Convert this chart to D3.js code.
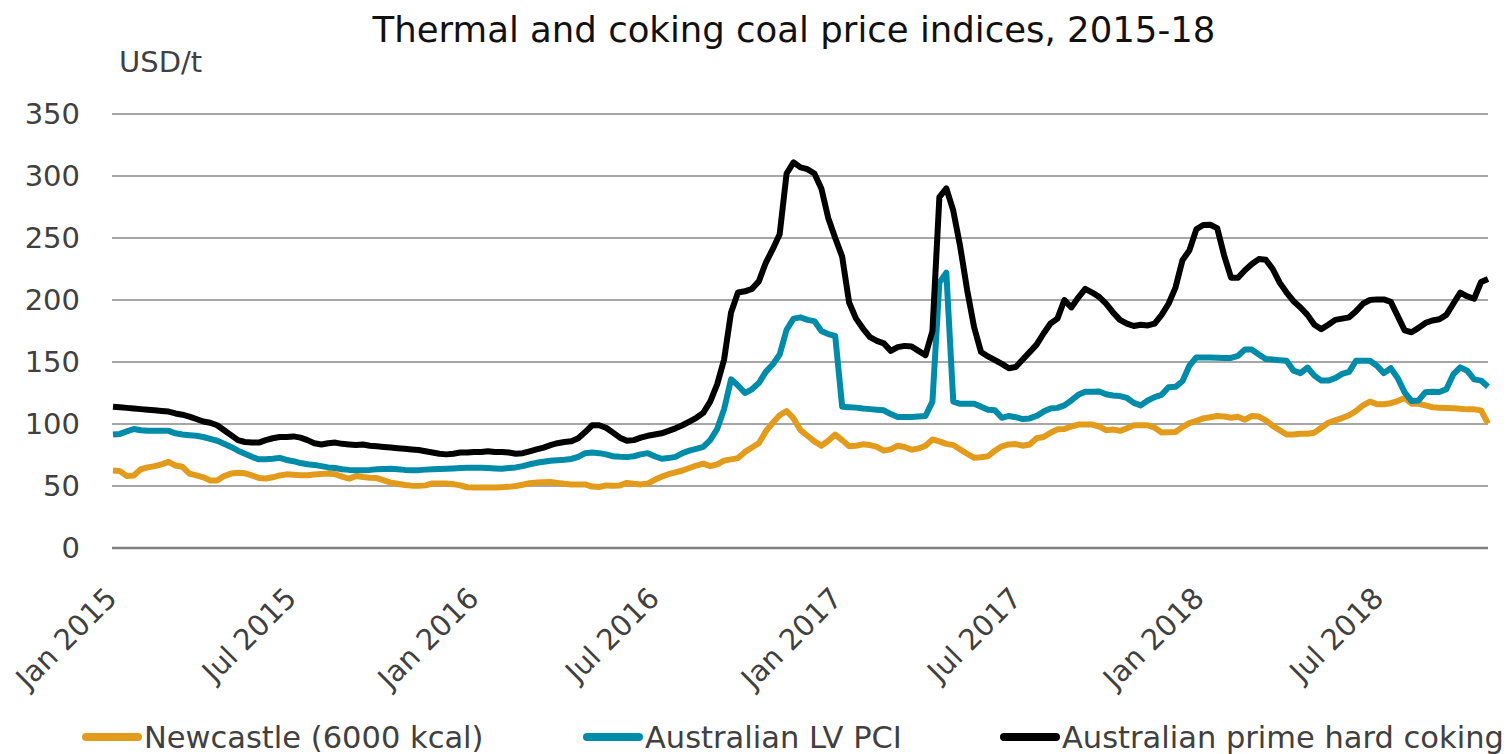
<!DOCTYPE html>
<html>
<head>
<meta charset="utf-8">
<script src="https://cdn.jsdelivr.net/npm/d3@7"></script>
<style>
  body { margin: 0; background: #fff; }
  text { font-family: "DejaVu Sans", sans-serif; }
</style>
</head>
<body>
<div id="chart"></div>
<script>
// weekly price data, USD/t, first week ending 2 Jan 2015
var firstWeek = new Date(2015, 0, 2);

var newcastle = [62.5,62,58,58.5,63.5,65,66,67.5,69.5,66.5,65.5,60,58.5,57,54.5,54.5,58,60,60.7,60.2,
  58.5,56.5,56,57,58.5,59.4,59,58.6,58.6,59.2,59.6,60,59.5,57.5,56,58,57.2,56.6,56.4,54.5,
  52.7,51.8,50.8,50.3,50.1,50.5,52,52,52,51.5,50.5,49,48.7,48.7,48.7,48.7,49,49.3,50,51,
  52.3,52.8,53,53.2,52.5,51.8,51.3,51.3,51.3,49.5,49.2,50.5,50.2,50.5,52.5,51.8,51.3,52,55,57.5,
  59.5,61,62.5,64.5,66.5,68,66,67.5,70.5,71.5,72.5,77.5,81,84.5,94,101,107,110.5,104.5,95,
  90.5,86,82.5,86.5,91.5,87,82,82.5,83.6,83,81.5,78.5,79.5,82.5,81.5,79.2,80.3,82.5,87.5,86,
  84,83,79.5,76,72.7,73.2,74,78.5,82,83.5,83.8,82.5,83.5,88.5,89.5,93,95.7,96,98,99.5,
  99.5,99.5,98,95,95.5,94.5,96.5,99,99,99,97,93.2,93.3,93.5,97.5,100.7,102.5,104.5,105.5,106.5,
  106,105,105.8,103.5,106.5,106,103,98.5,95,91.5,91.5,92.2,92.2,93,97,101,103,104.8,107,110.5,
  115,118,116,116,116.8,118.5,121,116.3,116.3,115,113.5,113.2,113,112.8,112.3,111.8,111.8,111,100.3];

var lvPci = [91.5,92,94,96,95,94.5,94.5,94.5,94.5,92.5,91.5,91,90.5,89.5,88,86.5,84,81.5,78.5,76,
  73.5,71.5,71.5,72,72.7,71,70,68.5,67.5,67,66,65,64.5,63.5,63,62.8,62.8,63,63.5,63.8,
  64,63.5,63,62.8,62.8,63.2,63.5,63.8,64,64.2,64.5,64.7,64.7,64.7,64.5,64.2,64,64.5,65,66,
  67.5,68.7,69.5,70.3,70.8,71.2,71.8,73.5,76.5,77,76.5,75.5,74,73.5,73.3,74,75.5,76.5,74,72,
  72.5,73.5,76.5,78.5,80,81.5,87,96,112,136,131,125,128,133,142,148,156,176,185,186,
  184,183,175,172.5,171,114,113.6,113.2,112.5,112,111.5,111,108,105.6,105.6,105.6,106,106.5,118,214,
  222,118,116.3,116.3,116.3,114,111.5,111,105,106.5,105.5,104,104.5,106.5,110,112.5,113,115,119,123.5,
  126,126,126.2,124,123,122.5,121,117,115,119,121.7,123.5,129.7,130,134.5,147,153.7,153.7,153.7,153.5,
  153.3,153.3,155,160,160,156,152.4,152,151.5,151,143,141,145.5,139,135,135,137,140.4,142,151,
  151,151,147,141,145,137,125.5,118.5,119,125.7,126,125.8,128,140,145.7,143,136,135,130];

var primeHard = [114,113.5,113,112.5,112,111.5,111,110.5,110,108.5,107.5,106,104,102,101,99,95,91,87,85.5,
  85,85,87,88.5,89.5,89.5,90,89,87,84.5,83.5,84.5,85,84,83.5,83,83.5,82.5,82,81.5,
  81,80.5,80,79.5,79,78,77,76,75.5,76,77,77,77.5,77.5,78,77.5,77.5,77,76,76.5,
  78,79.5,81,83,84.5,85.5,86,88.5,93.5,99,99,97,93,89,86.5,87,89,90.5,91.5,92.5,
  94.5,96.5,99,102,105,109,118,132,152,190,206,207,209,215,230,241,253,302,311,307,
  305.5,302,290,266,250,235,198,185,177,170,167,165,159,162,163,162.5,159,155.5,175,283,
  290,272,243,208,178,158,154.5,151.5,148.5,145,146,152,158,164,173,181,185,200,194,202,
  209,206,202.5,197,190,184,181,179,180,179.5,181,188,197,210,232,240,257,260.5,260.7,258,
  236,218,218,224,229,233,232.5,225,214,206,199,194,188,180,176.5,180,184,185,186,191,
  197,200,200.5,200.5,198.5,187,175.5,174,177.5,181.5,183.5,184.5,188,197,206,203,201,214.5,217];

var seriesNames = ["Newcastle (6000 kcal)", "Australian LV PCI", "Australian prime hard coking"];
var seriesColors = ["#e39b1b", "#008ba8", "#000000"];
var yTicks = [0, 50, 100, 150, 200, 250, 300, 350];

var width = 1511, height = 754;
var plotLeft = 112, plotRight = 1488, plotTop = 114, plotBottom = 548;

var svg = d3.select('#chart').append('svg').attr('width', width).attr('height', height);

var weeks = newcastle.map(function(d, i){ return d3.timeDay.offset(firstWeek, 7*i); });

var x = d3.scaleTime().domain([new Date(2015, 0, 1), new Date(2018, 9, 19)]).range([plotLeft, plotRight]);
var y = d3.scaleLinear().domain([0, 350]).range([plotBottom, plotTop]);

// title and unit
svg.append('text').attr('x', 794).attr('y', 42).attr('text-anchor', 'middle')
  .attr('font-size', 35.5).attr('fill', '#111').text('Thermal and coking coal price indices, 2015-18');
svg.append('text').attr('x', 119).attr('y', 72).attr('font-size', 29).attr('fill', '#404040').text('USD/t');

// gridlines
svg.selectAll('.grid').data(yTicks).enter().append('line')
  .attr('x1', plotLeft).attr('x2', plotRight)
  .attr('y1', function(d){ return y(d); }).attr('y2', function(d){ return y(d); })
  .attr('stroke', function(d){ return d == 0 ? '#808080' : '#a6a6a6'; })
  .attr('stroke-width', function(d){ return d == 0 ? 2.5 : 2; });

// y axis labels
var yAxis = svg.append('g').attr('transform', 'translate(' + plotLeft + ',0)')
  .call(d3.axisLeft(y).tickValues(yTicks).tickSize(0).tickPadding(32));
yAxis.select('.domain').remove();
yAxis.selectAll('text').attr('font-size', 29).attr('fill', '#404040').style('font-family', '"DejaVu Sans", sans-serif');

// x axis labels, rotated
var xTicks = d3.timeMonth.every(6).range(new Date(2015, 0, 1), new Date(2018, 7, 1));
var xAxis = svg.append('g').attr('transform', 'translate(0,' + plotBottom + ')')
  .call(d3.axisBottom(x).tickValues(xTicks).tickFormat(d3.timeFormat('%b %Y')).tickSize(0));
xAxis.select('.domain').remove();
xAxis.selectAll('text')
  .attr('font-size', 29).attr('fill', '#404040').style('font-family', '"DejaVu Sans", sans-serif')
  .attr('text-anchor', 'end').attr('dy', 0).attr('y', 0)
  .attr('transform', 'translate(6,52) rotate(-45)');

// lines
var line = d3.line().x(function(d){ return x(d.date); }).y(function(d){ return y(d.value); });
var allSeries = [newcastle, lvPci, primeHard];
allSeries.forEach(function(vals, k){
  var pts = vals.map(function(v, i){ return {date: weeks[i], value: v}; });
  svg.append('path').datum(pts).attr('d', line)
    .attr('fill', 'none').attr('stroke', seriesColors[k]).attr('stroke-width', 6)
    .attr('stroke-linejoin', 'round').attr('stroke-linecap', 'butt');
});

// legend
var legendX = [86, 587, 1004];
var legend = svg.selectAll('.legend').data(seriesNames).enter().append('g')
  .attr('transform', function(d, i){ return 'translate(' + legendX[i] + ',737)'; });
legend.append('line').attr('x1', 0).attr('x2', 52).attr('y1', 0).attr('y2', 0)
  .attr('stroke', function(d, i){ return seriesColors[i]; }).attr('stroke-width', 8).attr('stroke-linecap', 'round');
legend.append('text').attr('x', 58).attr('y', 11).attr('font-size', 30.5).attr('fill', '#404040')
  .text(function(d){ return d; });
</script>
</body>
</html>
